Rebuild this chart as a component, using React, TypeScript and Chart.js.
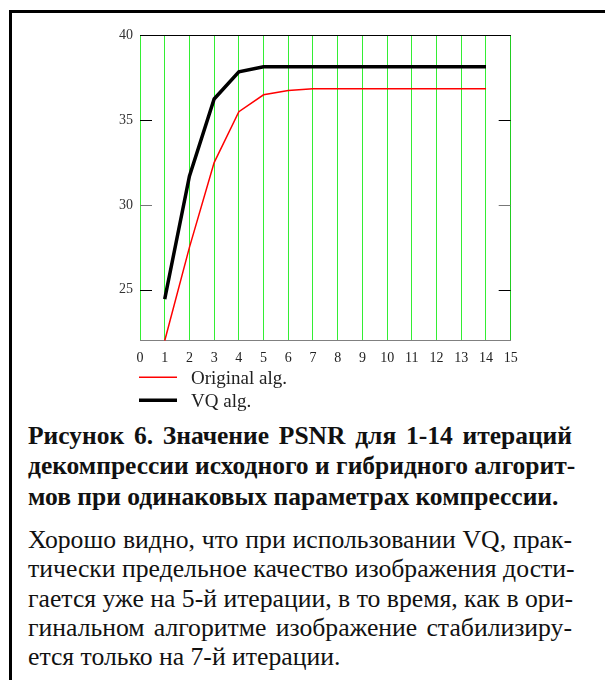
import React, { useEffect, useRef } from "react";
import { Chart, registerables } from "chart.js";

Chart.register(...registerables);

const iterations = [1, 2, 3, 4, 5, 6, 7, 8, 9, 10, 11, 12, 13, 14];
const originalAlg = [22.0, 27.5, 32.5, 35.5, 36.5, 36.75, 36.85, 36.85, 36.85, 36.85, 36.85, 36.85, 36.85, 36.85];
const vqAlg = [24.45, 31.7, 36.25, 37.85, 38.15, 38.15, 38.15, 38.15, 38.15, 38.15, 38.15, 38.15, 38.15, 38.15];
const xTicks = [0, 1, 2, 3, 4, 5, 6, 7, 8, 9, 10, 11, 12, 13, 14, 15];
const yTicks = [25, 30, 35, 40];
const seriesLabels = ["Original alg.", "VQ alg."];

const captionLines = [
  "Рисунок 6. Значение PSNR для 1-14 итераций",
  "декомпрессии исходного и гибридного алгорит-",
  "мов при одинаковых параметрах компрессии.",
];
const paragraphLines = [
  "Хорошо видно, что при использовании VQ, прак-",
  "тически предельное качество изображения дости-",
  "гается уже на 5-й итерации, в то время, как в ори-",
  "гинальном алгоритме изображение стабилизиру-",
  "ется только на 7-й итерации.",
];

const SERIF = '"Liberation Serif", "Times New Roman", serif';

const framePlugin = {
  id: "framePlugin",
  afterDraw(chart: any) {
    const { ctx, chartArea } = chart;
    const { left, right, top } = chartArea;
    const y = chart.scales.y;
    ctx.save();
    ctx.strokeStyle = "#000";
    ctx.lineWidth = 1;
    ctx.beginPath();
    ctx.moveTo(left, Math.round(top) + 0.5);
    ctx.lineTo(right, Math.round(top) + 0.5);
    ctx.stroke();
    yTicks.forEach((v) => {
      const py = Math.round(y.getPixelForValue(v)) + 0.5;
      ctx.strokeStyle = v === 30 ? "#777" : "#000";
      ctx.beginPath();
      ctx.moveTo(left, py);
      ctx.lineTo(left + 12, py);
      ctx.moveTo(right - 12, py);
      ctx.lineTo(right, py);
      ctx.stroke();
    });
    const ds = chart.data.datasets;
    ctx.font = "19px " + SERIF;
    ctx.textBaseline = "alphabetic";
    ctx.textAlign = "left";
    ds.forEach((d: any, i: number) => {
      const ly = chartArea.bottom + 36.5 + i * 23;
      ctx.strokeStyle = d.borderColor;
      ctx.lineWidth = d.borderWidth;
      ctx.beginPath();
      ctx.moveTo(left - 1, ly);
      ctx.lineTo(left + 37, ly);
      ctx.stroke();
      ctx.fillStyle = "#222";
      ctx.fillText(d.label, left + 51, ly + 7);
    });
    ctx.restore();
  },
};

function PsnrChart() {
  const ref = useRef<HTMLCanvasElement | null>(null);
  useEffect(() => {
    if (!ref.current) return;
    const chart = new Chart(ref.current, {
      type: "line",
      data: {
        datasets: [
          {
            label: seriesLabels[0],
            data: iterations.map((x, i) => ({ x, y: originalAlg[i] })),
            borderColor: "#ff0000",
            borderWidth: 1.5,
            pointRadius: 0,
            tension: 0,
            fill: false,
          },
          {
            label: seriesLabels[1],
            data: iterations.map((x, i) => ({ x, y: vqAlg[i] })),
            borderColor: "#000000",
            borderWidth: 3.5,
            pointRadius: 0,
            tension: 0,
            fill: false,
          },
        ],
      },
      options: {
        responsive: false,
        animation: false,
        devicePixelRatio: 1,
        layout: { padding: { left: 0, top: 14.3, right: 39.3, bottom: 0 } },
        plugins: { legend: { display: false }, tooltip: { enabled: false } },
        scales: {
          x: {
            type: "linear",
            min: 0,
            max: 15,
            afterBuildTicks: (s: any) => {
              s.ticks = xTicks.map((v) => ({ value: v }));
            },
            afterFit: (s: any) => {
              s.height = 79.3;
            },
            grid: {
              color: (c: any) => (c.tick && c.tick.value === 15 ? "#22cc22" : "#33ee33"),
              lineWidth: 1,
              drawTicks: false,
            },
            border: { display: true, color: "#808080", width: 1 },
            ticks: {
              padding: 9,
              color: "#222",
              font: { family: SERIF, size: 14 },
              maxRotation: 0,
              autoSkip: false,
            },
          },
          y: {
            type: "linear",
            min: 22,
            max: 40,
            afterBuildTicks: (s: any) => {
              s.ticks = yTicks.map((v) => ({ value: v }));
            },
            afterFit: (s: any) => {
              s.width = 60;
            },
            grid: { display: false, drawTicks: false },
            border: { display: false },
            ticks: {
              padding: 7,
              color: "#333",
              font: { family: SERIF, size: 14 },
            },
          },
        },
      },
      plugins: [framePlugin],
    });
    return () => chart.destroy();
  }, []);
  return <canvas ref={ref} width={470} height={400} style={{ width: 470, height: 400, display: "block" }} />;
}

export default function App() {
  const capSize = 25.5;
  const parSize = 25.7;
  const capBase = [444, 474.7, 505.4];
  const parBase = [548.3, 578, 607.5, 637, 666];
  return (
    <div
      style={{
        position: "fixed",
        left: 0,
        top: 0,
        width: 605,
        height: 680,
        overflow: "hidden",
        background: "#fff",
      }}
    >
      <div
        style={{
          position: "absolute",
          left: 9,
          top: 10,
          width: 700,
          height: 800,
          border: "3px solid #000",
          boxSizing: "border-box",
        }}
      />
      <div style={{ position: "absolute", left: 80, top: 20 }}>
        <PsnrChart />
      </div>
      {captionLines.map((t, i) => (
        <div
          key={"c" + i}
          style={{
            position: "absolute",
            left: 28,
            top: capBase[i] - 0.8375 * capSize,
            width: 544,
            fontFamily: SERIF,
            fontWeight: "bold",
            fontSize: capSize,
            lineHeight: 1,
            color: "#111",
            textAlign: "justify",
            textAlignLast: i < 2 ? "justify" : "left",
            whiteSpace: "nowrap",
          }}
        >
          {t}
        </div>
      ))}
      {paragraphLines.map((t, i) => (
        <div
          key={"p" + i}
          style={{
            position: "absolute",
            left: 28,
            top: parBase[i] - 0.8375 * parSize,
            width: 544,
            fontFamily: SERIF,
            fontSize: parSize,
            lineHeight: 1,
            color: "#111",
            textAlign: "justify",
            textAlignLast: i < 4 ? "justify" : "left",
            whiteSpace: "nowrap",
          }}
        >
          {t}
        </div>
      ))}
    </div>
  );
}
